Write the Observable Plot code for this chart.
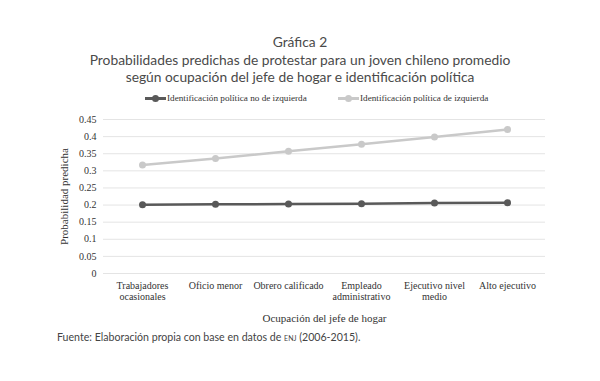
<!DOCTYPE html>
<html><head><meta charset="utf-8">
<script src="https://cdn.jsdelivr.net/npm/d3@7"></script>
<script src="https://cdn.jsdelivr.net/npm/@observablehq/plot@0.6"></script>
<style>
body{margin:0;background:#fff;width:600px;height:381px;overflow:hidden;font-family:Lato,"Open Sans",sans-serif;color:#444}
#title{position:absolute;top:33px;left:0;width:600px;text-align:center;font-size:13.8px;line-height:17.5px;color:#4a4a4a}
#legend{position:absolute;top:93px;left:0;width:600px;font-family:"Liberation Serif",serif;font-size:9.2px;color:#333}
.item{position:absolute;display:flex;align-items:center;white-space:nowrap}
.sw{position:relative;width:21px;height:10px;margin-right:1px}
.sw .ln{position:absolute;left:0;top:4px;width:21px;height:3px}
.sw .dt{position:absolute;left:7px;top:2px;width:7px;height:7px;border-radius:50%}
#chart{position:absolute;top:105px;left:0}
#foot{position:absolute;top:331px;left:57px;font-size:10.6px;color:#444}
.sc{font-variant:small-caps;text-transform:lowercase}
</style></head>
<body>
<div id="title">Gráfica 2<br>Probabilidades predichas de protestar para un joven chileno promedio<br>según ocupación del jefe de hogar e identificación política</div>
<div id="legend"></div>
<div id="chart"></div>
<div id="foot">Fuente: Elaboración propia con base en datos de <span class="sc">ENJ</span> (2006-2015).</div>
<script>
const categories = ["Trabajadores\nocasionales","Oficio menor","Obrero calificado","Empleado\nadministrativo","Ejecutivo nivel\nmedio","Alto ejecutivo"];
const seriesNames = ["Identificación política no de izquierda","Identificación política de izquierda"];
const noIzquierda = [0.201,0.202,0.203,0.204,0.206,0.207];
const izquierda = [0.317,0.336,0.357,0.378,0.399,0.421];
const yTicks = [0,0.05,0.1,0.15,0.2,0.25,0.3,0.35,0.4,0.45];
const colors = ["#595959","#c9c9c9"];

const data = [];
categories.forEach((c,i)=>{
  data.push({cat:c, serie:seriesNames[0], v:noIzquierda[i]});
  data.push({cat:c, serie:seriesNames[1], v:izquierda[i]});
});

// legend
const lg = document.getElementById("legend");
const lpos = [145,338];
seriesNames.forEach((s,i)=>{
  const d = document.createElement("div");
  d.className="item"; d.style.left=lpos[i]+"px"; d.style.top="0px";
  d.innerHTML = `<span class="sw"><span class="ln" style="background:${colors[i]}"></span><span class="dt" style="background:${colors[i]}"></span></span>${s}`;
  lg.appendChild(d);
});

const chart = Plot.plot({
  width:600, height:225,
  marginLeft:103, marginRight:55, marginTop:14, marginBottom:57,
  style:{fontFamily:"'Liberation Serif',serif", fontSize:"10px", color:"#333", background:"transparent"},
  x:{type:"point", domain:categories, padding:0.5, label:null},
  y:{domain:[0,0.45], ticks:yTicks, label:null},
  color:{domain:seriesNames, range:colors},
  marks:[
    Plot.ruleY(yTicks,{stroke:"#e4e4e4", strokeWidth:1}),
    Plot.axisY({ticks:yTicks, tickSize:0, tickPadding:7, tickFormat:d=>String(+d.toFixed(2)), fontSize:10, label:null}),
    Plot.axisX({tickSize:0, tickPadding:8, fontSize:10, lineHeight:1.1, label:null}),
    Plot.text(["Probabilidad predicha"],{frameAnchor:"left", dx:-39, rotate:-90, fontSize:11, textAnchor:"middle"}),
    Plot.text(["Ocupación del jefe de hogar"],{frameAnchor:"bottom", dy:48, fontSize:11}),
    Plot.line(data,{x:"cat", y:"v", z:"serie", stroke:"serie", strokeWidth:2.5}),
    Plot.dot(data,{x:"cat", y:"v", fill:"serie", r:3.5})
  ]
});
document.getElementById("chart").appendChild(chart);
</script>
</body></html>
